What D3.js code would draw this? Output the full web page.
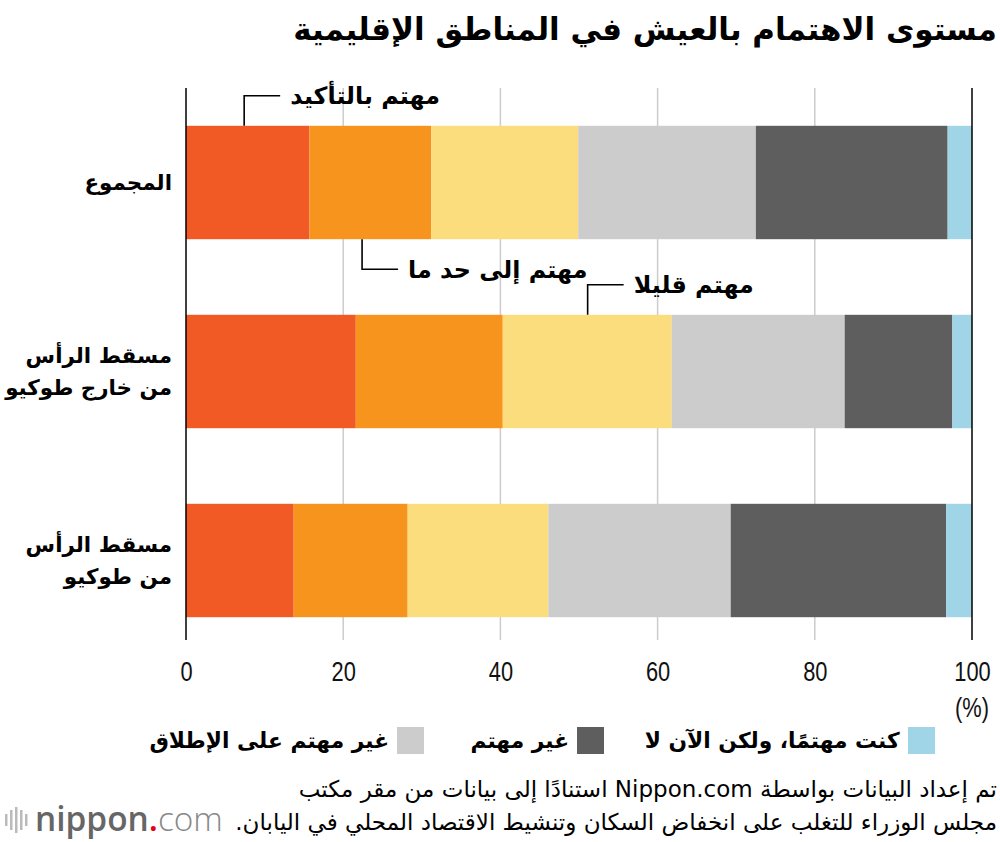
<!DOCTYPE html>
<html>
<head>
<meta charset="utf-8">
<script src="https://cdn.jsdelivr.net/npm/d3@7"></script>
<style>
  body { margin: 0; background: #fff; }
  svg { display: block; }
  .ar { font-family: "DejaVu Sans", sans-serif; direction: rtl; }
</style>
</head>
<body>
<script>
const categories = ["total", "outside", "tokyo"]
const categoryLabels = [["المجموع"], ["مسقط الرأس", "من خارج طوكيو"], ["مسقط الرأس", "من طوكيو"]]
const seriesNames = ["مهتم بالتأكيد", "مهتم إلى حد ما", "مهتم قليلا", "غير مهتم على الإطلاق", "غير مهتم", "كنت مهتمًا، ولكن الآن لا"]
const totalValues = [15.7, 15.5, 18.7, 22.6, 24.4, 3.1]
const outsideValues = [21.6, 18.7, 21.5, 22.0, 13.7, 2.5]
const tokyoValues = [13.7, 14.5, 17.9, 23.2, 27.4, 3.3]
const ticks = [0, 20, 40, 60, 80, 100]
// callouts: series index, category, x position (%)
const callouts = [
  { s: 0, cat: "total", at: 7.4, side: "top" },
  { s: 1, cat: "total", at: 22.4, side: "bottom" },
  { s: 2, cat: "outside", at: 51.1, side: "top" }
]
const legendOrder = [5, 4, 3]

const colors = ["#f15a25", "#f7941e", "#fcdd7d", "#cccccc", "#5e5e5e", "#a0d5e8"]
const width = 1000, height = 842

const rows = categories.map((c, i) => {
  const vals = [totalValues, outsideValues, tokyoValues][i]
  const r = { cat: c }
  seriesNames.forEach((s, j) => r[j] = vals[j])
  return r
})
const stacked = d3.stack().keys(d3.range(seriesNames.length))(rows)

const svg = d3.select("body").append("svg")
    .attr("width", width)
    .attr("height", height)

const x = d3.scaleLinear().domain([0, 100]).range([186, 972])
const y = d3.scaleBand().domain(categories).range([88, 655]).paddingInner(0.4).paddingOuter(0.2)

// fit text to a width and put its right edge at `right`
function fitRight(sel, right, w) {
  const node = sel.node()
  const fs = +sel.attr("font-size")
  const cur = node.getComputedTextLength()
  if (w) sel.attr("font-size", fs * w / cur)
  const bb = node.getBBox()
  sel.attr("x", +sel.attr("x") + right - (bb.x + bb.width))
  return sel
}
function fitLeft(sel, left, w) {
  const node = sel.node()
  const fs = +sel.attr("font-size")
  if (w) sel.attr("font-size", fs * w / node.getComputedTextLength())
  const bb = node.getBBox()
  sel.attr("x", +sel.attr("x") + left - bb.x)
  return sel
}

// title
const title = svg.append("text").attr("class", "ar")
    .attr("x", 997).attr("y", 40)
    .attr("font-size", 30).attr("font-weight", "bold")
    .text("مستوى الاهتمام بالعيش في المناطق الإقليمية")
fitRight(title, 997, 704)

// gridlines
svg.append("g").selectAll("line")
  .data(ticks.slice(1, -1))
  .join("line")
    .attr("x1", d => x(d)).attr("x2", d => x(d))
    .attr("y1", 88).attr("y2", 640)
    .attr("stroke", "#cccccc").attr("stroke-width", 1.5)

// bars
svg.append("g").selectAll("g")
  .data(stacked)
  .join("g")
    .attr("fill", (d, i) => colors[i])
  .selectAll("rect")
  .data(d => d)
  .join("rect")
    .attr("x", d => x(d[0]))
    .attr("width", d => x(d[1]) - x(d[0]))
    .attr("y", d => y(d.data.cat))
    .attr("height", y.bandwidth())

// axis lines at 0 and 100
svg.append("g").selectAll("line")
  .data([0, 100])
  .join("line")
    .attr("x1", d => x(d)).attr("x2", d => x(d))
    .attr("y1", 88).attr("y2", 640)
    .attr("stroke", "#000").attr("stroke-width", 1.5)

// tick labels (condensed look)
const axis = d3.axisBottom(x).tickValues(ticks).tickSize(0).tickPadding(0)
const ag = svg.append("g").attr("transform", "translate(0,661)").call(axis)
ag.select(".domain").remove()
ag.selectAll("text")
    .attr("font-family", "'Liberation Sans', sans-serif")
    .attr("font-size", 28).attr("fill", "#111")
    .attr("dy", "0.71em").attr("y", 0)
    .attr("transform", "scale(0.78,1)")
svg.append("g")
    .attr("transform", `translate(${x(100)},717) scale(0.78,1)`)
  .append("text")
    .attr("text-anchor", "middle")
    .attr("font-family", "'Liberation Sans', sans-serif")
    .attr("font-size", 28).attr("fill", "#111")
    .text("(%)")

// category labels
let catSize = 22
{
  const probe = svg.append("text").attr("class", "ar").attr("font-size", 22).attr("font-weight", "bold").text("من خارج طوكيو")
  catSize = 22 * 167 / probe.node().getComputedTextLength()
  probe.remove()
}
categories.forEach((c, i) => {
  const lines = categoryLabels[i]
  const cy = y(c) + y.bandwidth() / 2
  lines.forEach((t, k) => {
    const ty = cy + (k - (lines.length - 1) / 2) * 32 + catSize * 0.35
    const el = svg.append("text").attr("class", "ar")
        .attr("x", 172).attr("y", ty)
        .attr("font-size", catSize).attr("font-weight", "bold")
        .text(t)
    fitRight(el, 172)
  })
})

// callouts
let annSize = 22
{
  const probe = svg.append("text").attr("class", "ar").attr("font-size", 22).attr("font-weight", "bold").text(seriesNames[0])
  annSize = 22 * 150 / probe.node().getComputedTextLength()
  probe.remove()
}
callouts.forEach(c => {
  const cx = x(c.at)
  const yEdge = c.side === "top" ? y(c.cat) : y(c.cat) + y.bandwidth()
  const yLine = c.side === "top" ? yEdge - 30 : yEdge + 30
  svg.append("path")
      .attr("d", `M${cx},${yEdge}V${yLine}H${cx + 36}`)
      .attr("fill", "none").attr("stroke", "#000").attr("stroke-width", 1.6)
  const el = svg.append("text").attr("class", "ar")
      .attr("x", cx + 46).attr("y", yLine + annSize * 0.35)
      .attr("font-size", annSize).attr("font-weight", "bold")
      .text(seriesNames[c.s])
  fitLeft(el, cx + 46)
})

// legend
const legendRight = [935, 604, 424]
let legSize = 22
{
  const probe = svg.append("text").attr("class", "ar").attr("font-size", 22).attr("font-weight", "bold").text(seriesNames[5])
  legSize = 22 * 255 / probe.node().getComputedTextLength()
  probe.remove()
}
legendOrder.forEach((s, i) => {
  const r = legendRight[i]
  svg.append("rect")
      .attr("x", r - 27).attr("y", 727).attr("width", 27).attr("height", 27)
      .attr("fill", colors[s])
  const el = svg.append("text").attr("class", "ar")
      .attr("x", r - 35).attr("y", 748)
      .attr("font-size", legSize).attr("font-weight", "bold")
      .text(seriesNames[s])
  fitRight(el, r - 35)
})

// source
const src2 = svg.append("text").attr("class", "ar")
    .attr("x", 997).attr("y", 830).attr("font-size", 20)
    .text("مجلس الوزراء للتغلب على انخفاض السكان وتنشيط الاقتصاد المحلي في اليابان.")
fitRight(src2, 997, 762)
const src1 = svg.append("text").attr("class", "ar")
    .attr("x", 997).attr("y", 797).attr("font-size", +src2.attr("font-size"))
    .text("تم إعداد البيانات بواسطة Nippon.com استنادًا إلى بيانات من مقر مكتب")
fitRight(src1, 997)

// logo
const logo = svg.append("g")
logo.selectAll("rect")
  .data([[5, 12], [10, 20], [15, 26], [20, 20], [25, 12]])
  .join("rect")
    .attr("x", d => d[0]).attr("y", d => 820 - d[1] / 2)
    .attr("width", 2.5).attr("height", d => d[1])
    .attr("fill", "#bbb")
const lt = logo.append("text")
    .attr("x", 35).attr("y", 831)
    .attr("font-family", "'Open Sans', 'DejaVu Sans', sans-serif")
    .attr("font-size", 34).attr("fill", "#666")
lt.append("tspan").attr("font-weight", "600").text("nippon")
lt.append("tspan").attr("fill", "#e60012").attr("font-weight", "600").text(".")
lt.append("tspan").attr("font-weight", "300").attr("fill", "#888").text("com")
fitLeft(lt, 35, 188)
</script>
</body>
</html>
